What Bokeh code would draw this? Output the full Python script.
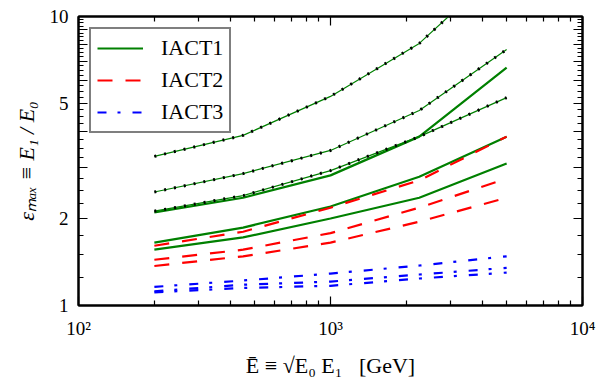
import json
from bokeh.plotting import figure
from bokeh.models import LogAxis, FixedTicker, CustomJSTickFormatter, Legend, LegendItem
from bokeh.embed import file_html
from bokeh.resources import INLINE

# ---------------- data ----------------
energy = [200, 450, 1000, 2250, 5000]          # E-bar [GeV]

# IACT1 (green, solid)
iact1_a = [2.10, 2.36, 2.82, 3.84, 6.66]
iact1_b = [1.65, 1.86, 2.20, 2.79, 3.84]
iact1_c = [1.56, 1.72, 2.00, 2.36, 3.10]

# green curves with black dots
dotted_a = [3.28, 3.88, 5.29, 8.07, 15.3]
dotted_b = [2.47, 2.86, 3.44, 4.73, 7.69]
dotted_c = [2.12, 2.40, 2.93, 3.84, 5.24]

# IACT2 (red, dashed)
iact2_a = [1.61, 1.80, 2.18, 2.71, 3.84]
iact2_b = [1.44, 1.56, 1.78, 2.18, 2.75]
iact2_c = [1.37, 1.48, 1.65, 1.95, 2.36]

# IACT3 (blue, dash-dot)
iact3_a = [1.16, 1.22, 1.29, 1.375, 1.48]
iact3_b = [1.12, 1.18, 1.21, 1.28, 1.35]
iact3_c = [1.11, 1.15, 1.17, 1.24, 1.30]

series_names = ["IACT1", "IACT2", "IACT3"]

x_major = [100, 1000, 10000]
x_minor = [m * 10 ** k for k in (2, 3) for m in range(2, 10)]
x_tick_labels = {"100": "10\u00b2", "1000": "10\u00b3", "10000": "10\u2074"}
y_major = list(range(1, 11))
y_minor = [i + f for i in range(1, 10) for f in (0.25, 0.5, 0.75)]
y_tick_labels = {"1": "1", "2": "2", "5": "5", "10": "10"}

FONT = "Liberation Serif"
GREEN, RED, BLUE = "#008000", "#ff0000", "#0000ff"

# ---------------- figure ----------------
p = figure(x_axis_type="log", y_axis_type="log",
           x_range=(100, 10000), y_range=(1, 10),
           frame_width=504, frame_height=289,
           min_border_left=78, min_border_right=16,
           min_border_top=16, min_border_bottom=58,
           output_backend="svg", toolbar_location=None)
p.background_fill_color = "white"
p.border_fill_color = "white"
p.xgrid.visible = False
p.ygrid.visible = False
p.outline_line_color = "black"
p.outline_line_width = 2

def fmt(mapping):
    return CustomJSTickFormatter(
        code="const m = %s; const k = String(tick); return (k in m) ? m[k] : '';" % json.dumps(mapping))

def style_axis(ax, labels):
    ax.axis_line_width = 2
    ax.axis_line_color = "black"
    ax.major_tick_in = 9
    ax.major_tick_out = 0
    ax.minor_tick_in = 5
    ax.minor_tick_out = 0
    ax.major_tick_line_width = 1.2
    ax.minor_tick_line_width = 1.2
    ax.major_label_text_font = FONT
    ax.major_label_text_font_size = "19px" if labels else "0px"
    ax.major_label_text_color = "black"
    ax.axis_label_text_font = FONT
    ax.axis_label_text_font_size = "22px"
    ax.axis_label_text_color = "black"

xb = p.below[0]
xb.ticker = FixedTicker(ticks=x_major, minor_ticks=x_minor)
xb.formatter = fmt(x_tick_labels)
style_axis(xb, True)
xb.major_label_standoff = 12
xb.axis_label = "\u0112 \u2261 \u221aE\u2080 E\u2081\u00a0\u00a0\u00a0[GeV]"
xb.axis_label_standoff = 11
xb.axis_label_text_font_style = "normal"

yl = p.left[0]
yl.ticker = FixedTicker(ticks=y_major, minor_ticks=y_minor)
yl.formatter = fmt(y_tick_labels)
style_axis(yl, True)
yl.major_label_standoff = 10
yl.axis_label = "\u03b5\u2098\u2090\u2093 \u2261 E\u2081 / E\u2080"
yl.axis_label_standoff = 8
yl.axis_label_text_font_style = "italic"

xt = LogAxis(ticker=FixedTicker(ticks=x_major, minor_ticks=x_minor), formatter=fmt({}))
style_axis(xt, False)
xt.major_label_standoff = 0
p.add_layout(xt, "above")

yr = LogAxis(ticker=FixedTicker(ticks=y_major, minor_ticks=y_minor), formatter=fmt({}))
style_axis(yr, False)
yr.major_label_standoff = 0
p.add_layout(yr, "right")

# ---------------- curves ----------------
green_r = []
for ys in (iact1_a, iact1_b, iact1_c):
    green_r.append(p.line(energy, ys, line_color=GREEN, line_width=2.2))

for ys in (dotted_a, dotted_b, dotted_c):
    p.line(energy, ys, line_color=GREEN, line_width=1.2)
    p.line(energy, ys, line_color="black", line_width=3, line_dash="2 8")

red_r = []
for ys in (iact2_a, iact2_b, iact2_c):
    red_r.append(p.line(energy, ys, line_color=RED, line_width=2.2, line_dash="15 13"))

blue_r = []
for ys in (iact3_a, iact3_b, iact3_c):
    blue_r.append(p.line(energy, ys, line_color=BLUE, line_width=2.2, line_dash="9 11 3 12"))

legend = Legend(items=[LegendItem(label=series_names[0], renderers=[green_r[0]]),
                       LegendItem(label=series_names[1], renderers=[red_r[0]]),
                       LegendItem(label=series_names[2], renderers=[blue_r[0]])],
                location="top_left")
legend.margin = 11
legend.padding = 6
legend.spacing = 6
legend.glyph_width = 46
legend.glyph_height = 22
legend.label_height = 22
legend.label_standoff = 18
legend.label_text_font = FONT
legend.label_text_font_size = "22px"
legend.label_text_color = "black"
legend.border_line_color = "black"
legend.border_line_width = 2
legend.background_fill_color = "white"
legend.background_fill_alpha = 1.0
p.add_layout(legend)

open("out.html", "w").write(file_html(p, INLINE))
